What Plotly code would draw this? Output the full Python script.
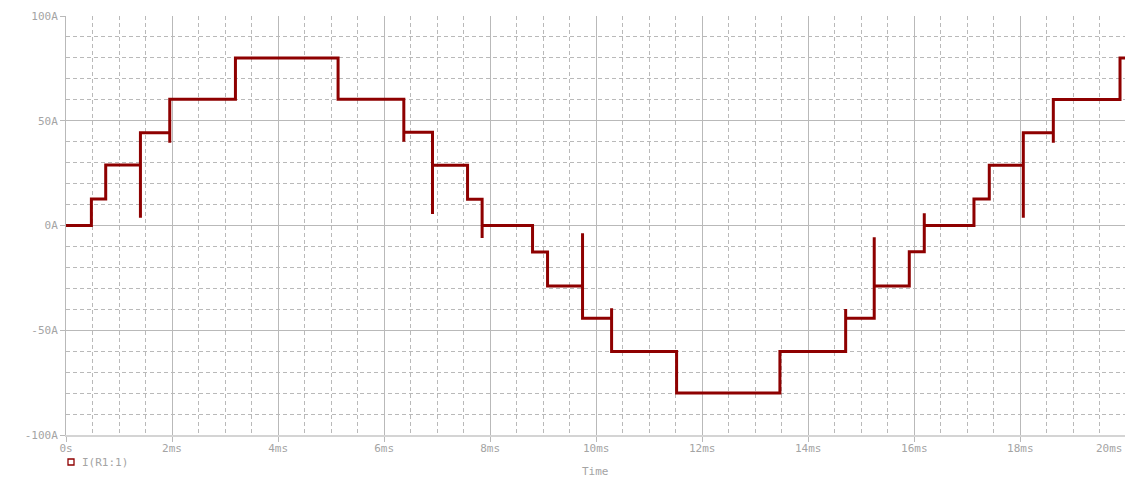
import plotly.graph_objects as go

# Switching instants (ms), the transient value reached at each switch (None = clean step),
# and the current level held after each switch (A)
t_switch = [0.479, 0.749, 1.404, 1.957, 3.196, 5.132, 6.372, 6.913, 7.574, 7.849,
            8.800, 9.083, 9.743, 10.291, 11.517, 13.466, 14.706, 15.245, 15.906, 16.189,
            17.126, 17.415, 18.057, 18.623, 19.881]
i_spike = [None, None, 3.7, 39.5, None, None, 40.0, 5.5, None, -6.0,
           None, None, -3.7, -39.5, None, None, -39.8, -5.6, None, 5.8,
           None, None, 3.7, 39.5, None]
i_level = [12.6, 28.9, 44.3, 60.3, 80.0, 60.3, 44.5, 28.7, 12.5, 0.0,
           -12.6, -28.9, -44.3, -60.2, -80.0, -60.2, -44.3, -28.9, -12.5, 0.0,
           12.6, 28.7, 44.3, 60.2, 80.0]
i_start = 0.0
t_stop = 20.1
t_view = 19.975

x_ticks = [0, 2, 4, 6, 8, 10, 12, 14, 16, 18, 20]
x_tick_text = ["0s", "2ms", "4ms", "6ms", "8ms", "10ms", "12ms", "14ms", "16ms", "18ms", "20ms"]
y_ticks = [-100, -50, 0, 50, 100]
y_tick_text = ["-100A", "-50A", "0A", "50A", "100A"]

# Expand the switching table into a staircase polyline
t_pts, i_pts = [0.0], [i_start]
prev = i_start
for ts, sp, lv in zip(t_switch, i_spike, i_level):
    t_pts.append(ts); i_pts.append(prev)
    if sp is not None:
        t_pts.append(ts); i_pts.append(sp)
    t_pts.append(ts); i_pts.append(lv)
    prev = lv
t_pts.append(t_stop); i_pts.append(prev)

TRACE = "#8e0000"
TXT = "#a4a4a4"
GRID = "#b9b9b9"
FONT = "DejaVu Sans Mono"

L, T, B = 66, 16, 43
PW, PH = 1125 - L, 478 - T - B

fig = go.Figure()
fig.add_trace(go.Scatter(x=t_pts, y=i_pts, mode="lines",
                         line=dict(color=TRACE, width=3), showlegend=False,
                         hoverinfo="skip"))

inside = [i for i, v in enumerate(x_ticks) if v <= t_view]
fig.update_layout(
    width=1125, height=478,
    margin=dict(l=L, r=0, t=T, b=B, autoexpand=False),
    paper_bgcolor="white", plot_bgcolor="white",
    font=dict(family=FONT, size=11, color=TXT),
    xaxis=dict(range=[0, t_view],
               tickvals=[x_ticks[i] for i in inside],
               ticktext=[x_tick_text[i] for i in inside],
               automargin=False,
               showgrid=True, gridcolor=GRID, gridwidth=1,
               ticks="outside", ticklen=5, tickcolor=GRID,
               ticklabeloverflow="allow", ticklabelstandoff=-3,
               showline=True, linecolor="#d4d4d4", linewidth=2,
               zeroline=False,
               minor=dict(dtick=0.5, tick0=0, showgrid=True, gridcolor=GRID,
                          griddash="4px,3px", gridwidth=1, ticks=""),
               tickfont=dict(family=FONT, size=11, color=TXT)),
    yaxis=dict(range=[-100, 100], tickvals=y_ticks, ticktext=y_tick_text,
               automargin=False,
               showgrid=True, gridcolor=GRID, gridwidth=1,
               ticks="outside", ticklen=5, tickcolor=GRID,
               showline=True, linecolor=GRID, linewidth=1,
               zeroline=False,
               minor=dict(dtick=10, tick0=0, showgrid=True, gridcolor=GRID,
                          griddash="4px,3px", gridwidth=1, ticks=""),
               tickfont=dict(family=FONT, size=11, color=TXT)),
)

# Tick label just past the right edge of the time window, pulled inside the page
for i, v in enumerate(x_ticks):
    if v > t_view:
        fig.add_annotation(text=x_tick_text[i], xref="paper", yref="paper",
                           x=1.0, y=(435 - 448) / PH,
                           xanchor="right", yanchor="middle", showarrow=False,
                           font=dict(family=FONT, size=11, color=TXT))

# Axis title and probe legend
fig.add_annotation(text="Time", xref="paper", yref="paper", x=0.5, y=(435 - 471.5) / PH,
                   xanchor="center", yanchor="middle", showarrow=False,
                   font=dict(family=FONT, size=11, color=TXT))
fig.add_shape(type="rect", xref="paper", yref="paper",
              x0=(68 - L) / PW, x1=(74 - L) / PW,
              y0=(435 - 465) / PH, y1=(435 - 459) / PH,
              line=dict(color=TRACE, width=1.3), fillcolor="white")
fig.add_annotation(text="I(R1:1)", xref="paper", yref="paper",
                   x=(80 - L) / PW, y=(435 - 462) / PH,
                   xanchor="left", yanchor="middle", showarrow=False,
                   font=dict(family=FONT, size=11, color=TXT))

fig.write_html("out.html")
